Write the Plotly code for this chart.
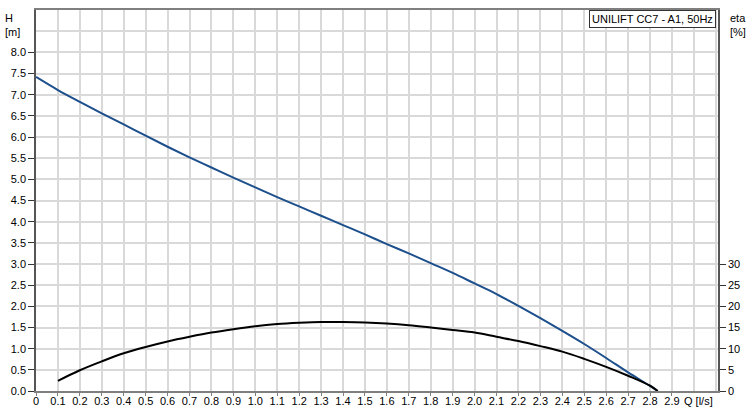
import plotly.graph_objects as go

# Flow Q [l/s]
q_head = [0.0, 0.1, 0.2, 0.3, 0.4, 0.5, 0.6, 0.7, 0.8, 0.9, 1.0, 1.1, 1.2, 1.3, 1.4,
          1.5, 1.6, 1.7, 1.8, 1.9, 2.0, 2.1, 2.2, 2.3, 2.4, 2.5, 2.6, 2.7, 2.8, 2.835]
head = [7.42, 7.11, 6.83, 6.56, 6.30, 6.03, 5.77, 5.52, 5.28, 5.04, 4.81, 4.58, 4.36, 4.14, 3.92,
        3.70, 3.47, 3.25, 3.02, 2.79, 2.54, 2.29, 2.01, 1.72, 1.42, 1.11, 0.78, 0.44, 0.12, 0.0]

q_eta = [0.1, 0.2, 0.3, 0.4, 0.5, 0.6, 0.7, 0.8, 0.9, 1.0, 1.1, 1.2, 1.3, 1.4,
         1.5, 1.6, 1.7, 1.8, 1.9, 2.0, 2.1, 2.2, 2.3, 2.4, 2.5, 2.6, 2.7, 2.8, 2.835]
eta = [2.4, 4.9, 7.0, 8.9, 10.4, 11.7, 12.8, 13.8, 14.6, 15.3, 15.8, 16.1, 16.3, 16.3,
       16.2, 15.95, 15.55, 15.0, 14.4, 13.8, 12.8, 11.8, 10.6, 9.3, 7.6, 5.7, 3.6, 1.25, 0.0]

x_tickvals = [i / 10 for i in range(30)]
x_ticktext = ["0"] + [f"{i / 10:.1f}" for i in range(1, 30)]
x_unit_label = "Q [l/s]"
y_tickvals = [i / 2 for i in range(17)]
y_ticktext = [f"{v:.1f}" for v in y_tickvals]
y2_tickvals = [0, 5, 10, 15, 20, 25, 30]
y2_ticktext = [str(v) for v in y2_tickvals]

legend_text = "UNILIFT CC7 - A1, 50Hz"

font = dict(family="Liberation Sans, Arial, sans-serif", size=11, color="#000000")
grid = "#d9d9d9"

fig = go.Figure()
fig.add_trace(go.Scatter(x=q_head, y=head, mode="lines", yaxis="y",
                         line=dict(color="#1c4f8c", width=2, shape="spline"),
                         showlegend=False, hoverinfo="skip"))
fig.add_trace(go.Scatter(x=q_eta, y=eta, mode="lines", yaxis="y2",
                         line=dict(color="#000000", width=2, shape="spline"),
                         showlegend=False, hoverinfo="skip"))

fig.update_layout(
    width=751, height=407,
    margin=dict(l=36, r=33, t=10, b=16),
    paper_bgcolor="white", plot_bgcolor="white",
    font=font,
    xaxis=dict(range=[0, 3.11], tickmode="array", tickvals=x_tickvals, ticktext=x_ticktext,
               tickangle=0, automargin=False, ticklabelstandoff=-4,
               showgrid=True, gridcolor=grid, gridwidth=1.5,
               minor=dict(dtick=0.1, tick0=0, showgrid=True, gridcolor=grid, gridwidth=1.5, ticks=""),
               showline=True, linecolor="#7f7f7f", linewidth=2, mirror=True,
               ticks="outside", ticklen=3, tickcolor="#7f7f7f", zeroline=False,
               tickfont=font),
    yaxis=dict(range=[0, 9], tickmode="array", tickvals=y_tickvals, ticktext=y_ticktext,
               automargin=False,
               showgrid=True, gridcolor=grid, gridwidth=1.5,
               minor=dict(dtick=0.5, tick0=0, showgrid=True, gridcolor=grid, gridwidth=1.5, ticks=""),
               showline=True, linecolor="#555555", linewidth=1.5,
               ticks="outside", ticklen=6, tickcolor="#333333", zeroline=False,
               tickfont=font),
    yaxis2=dict(range=[0, 90], overlaying="y", side="right", tickmode="array",
                tickvals=y2_tickvals, ticktext=y2_ticktext, showgrid=False, automargin=False,
                showline=True, linecolor="#555555", linewidth=1.5,
                ticks="outside", ticklen=6, tickcolor="#333333", zeroline=False,
                tickfont=font),
    annotations=[
        dict(text="H<br>[m]", xref="paper", yref="paper", x=-0.035, y=1.0, xanchor="center",
             yanchor="top", showarrow=False, font=font, align="left"),
        dict(text="eta<br>[%]", xref="paper", yref="paper", x=1.03, y=1.0, xanchor="center",
             yanchor="top", showarrow=False, font=font, align="left"),
        dict(text=legend_text, xref="paper", yref="paper", x=0.997, y=1.0, xanchor="right",
             yanchor="top", showarrow=False, font=font, bgcolor="white",
             bordercolor="#333333", borderwidth=1, borderpad=2),
        dict(text=x_unit_label, xref="x", yref="paper", x=3.0, y=0, xanchor="center",
             yanchor="top", xshift=5, yshift=-2, showarrow=False, font=font),
    ],
)

fig.write_html("out.html", config={"displayModeBar": False},
               post_script="document.body.style.margin='0';document.body.style.padding='0';")
